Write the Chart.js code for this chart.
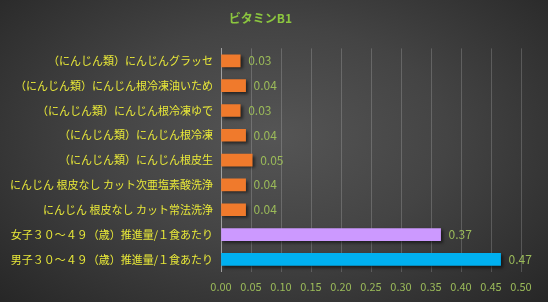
<!DOCTYPE html>
<html>
<head>
<meta charset="utf-8">
<script src="https://cdn.jsdelivr.net/npm/chart.js@4/dist/chart.umd.min.js"></script>
<style>
  html, body { margin: 0; padding: 0; }
  body {
    width: 548px; height: 302px; overflow: hidden;
    background: radial-gradient(ellipse 70% 80% at 50% 45%, #555555 0%, #444444 45%, #262626 100%);
  }
  #wrap { width: 548px; height: 302px; position: relative; }
</style>
</head>
<body>
<div id="wrap"><canvas id="chart" width="548" height="302"></canvas></div>
<script>
const title = 'ビタミンB1'
const categories = [
    '（にんじん類）にんじんグラッセ',
    '（にんじん類）にんじん根冷凍油いため',
    '（にんじん類）にんじん根冷凍ゆで',
    '（にんじん類）にんじん根冷凍',
    '（にんじん類）にんじん根皮生',
    'にんじん 根皮なし カット次亜塩素酸洗浄',
    'にんじん 根皮なし カット常法洗浄',
    '女子３０～４９（歳）推進量/１食あたり',
    '男子３０～４９（歳）推進量/１食あたり'
]
const values = [0.032, 0.041, 0.032, 0.041, 0.052, 0.041, 0.041, 0.366, 0.466]
const barColors = ['#f07a2c', '#f07a2c', '#f07a2c', '#f07a2c', '#f07a2c', '#f07a2c', '#f07a2c', '#cc99ff', '#00b0f0']
const xTicks = [0, 0.05, 0.1, 0.15, 0.2, 0.25, 0.3, 0.35, 0.4, 0.45, 0.5]

const FONT = '"Noto Sans CJK JP", "Noto Sans", sans-serif'

// shadow under the bars + value labels at the bar ends
const barExtras = {
    id: 'barExtras',
    beforeDatasetDraw(chart) {
        const ctx = chart.ctx
        ctx.save()
        ctx.shadowColor = 'rgba(0,0,0,0.55)'
        ctx.shadowOffsetX = 2
        ctx.shadowOffsetY = 2
        ctx.shadowBlur = 3
    },
    afterDatasetDraw(chart) {
        chart.ctx.restore()
    },
    afterDatasetsDraw(chart) {
        const ctx = chart.ctx
        const meta = chart.getDatasetMeta(0)
        ctx.save()
        ctx.font = '12px ' + FONT
        ctx.fillStyle = '#9bbb59'
        ctx.textAlign = 'left'
        ctx.textBaseline = 'middle'
        meta.data.forEach((bar, i) => {
            ctx.fillText(values[i].toFixed(2), bar.x + 8, bar.y)
        })
        ctx.restore()
    }
}

new Chart(document.getElementById('chart'), {
    type: 'bar',
    data: {
        labels: categories,
        datasets: [{
            data: values,
            backgroundColor: barColors,
            borderWidth: 0,
            barThickness: 12
        }]
    },
    options: {
        indexAxis: 'y',
        responsive: false,
        animation: false,
        devicePixelRatio: 1,
        layout: { padding: { top: 0, right: 27, bottom: 1, left: 0 } },
        plugins: {
            legend: { display: false },
            tooltip: { enabled: false },
            title: {
                display: true,
                text: title,
                color: '#8cc63f',
                font: { family: FONT, size: 12, weight: 'bold' },
                padding: { top: 11, bottom: 23 }
            }
        },
        scales: {
            x: {
                min: 0,
                max: 0.5,
                afterBuildTicks: (s) => { s.ticks = xTicks.map(v => ({ value: v })) },
                grid: { color: 'rgba(255,255,255,0.18)', drawTicks: false },
                border: { display: false },
                ticks: {
                    color: '#9bbb59',
                    font: { family: FONT, size: 11 },
                    padding: 8,
                    maxRotation: 0,
                    autoSkip: false,
                    callback: (v) => Number(v).toFixed(2)
                }
            },
            y: {
                afterFit: (s) => { s.width = 221 },
                grid: { display: false, drawTicks: false },
                border: { display: true, color: '#a0a0a0', width: 1 },
                ticks: {
                    color: '#e8e838',
                    font: { family: FONT, size: 11 },
                    padding: 8,
                    autoSkip: false
                }
            }
        }
    },
    plugins: [barExtras]
})
</script>
</body>
</html>
